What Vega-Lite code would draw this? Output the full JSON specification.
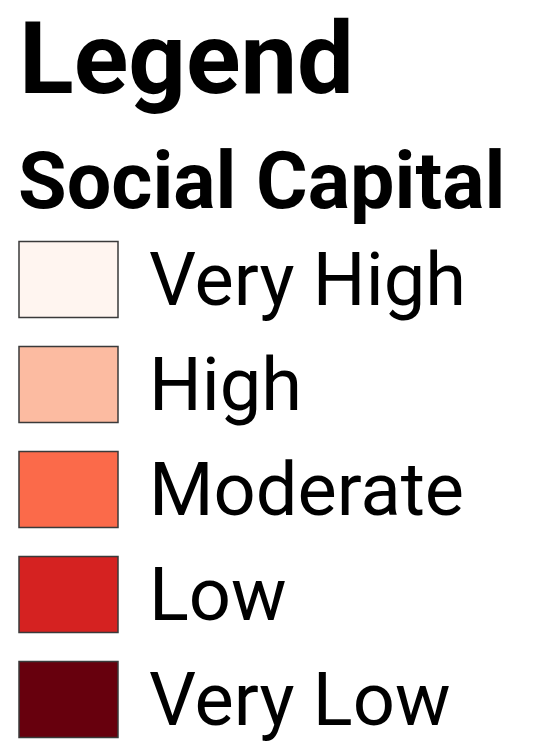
{
  "$schema": "https://vega.github.io/schema/vega-lite/v6.json",
  "width": 542,
  "height": 646,
  "autosize": "none",
  "padding": {"top": 100, "left": 0, "right": 0, "bottom": 0},
  "background": "white",
  "title": {
    "text": "Legend",
    "anchor": "start",
    "frame": "group",
    "font": "Roboto",
    "fontWeight": "bold",
    "fontSize": 101,
    "color": "black",
    "baseline": "alphabetic",
    "offset": -94,
    "dx": 19
  },
  "data": {
    "values": [
      {"capital": "Very High"},
      {"capital": "High"},
      {"capital": "Moderate"},
      {"capital": "Low"},
      {"capital": "Very Low"}
    ]
  },
  "mark": {"type": "point", "filled": true, "opacity": 0},
  "encoding": {
    "color": {
      "field": "capital",
      "type": "nominal",
      "scale": {
        "domain": ["Very High", "High", "Moderate", "Low", "Very Low"],
        "range": ["#fff5f0", "#fcbba1", "#fb6a4a", "#d52221", "#67000d"]
      },
      "legend": {
        "orient": "none",
        "legendX": 18,
        "legendY": 46,
        "title": "Social Capital",
        "titleFont": "Roboto",
        "titleFontWeight": "bold",
        "titleFontSize": 79,
        "titleColor": "black",
        "titlePadding": 4,
        "titleLimit": 600,
        "labelFont": "Roboto",
        "labelFontSize": 74,
        "labelColor": "black",
        "labelOffset": 30,
        "labelLimit": 500,
        "symbolType": "M-1,-0.768L1,-0.768L1,0.768L-1,0.768Z",
        "symbolSize": 9801,
        "symbolStrokeWidth": 1.5,
        "rowPadding": 13,
        "padding": 0,
        "encode": {
          "symbols": {
            "update": {
              "stroke": {"value": "#3a3a3a"},
              "strokeWidth": {"value": 1.5},
              "opacity": {"value": 1},
              "fillOpacity": {"value": 1}
            }
          },
          "labels": {
            "update": {
              "dy": {"value": 3}
            }
          }
        }
      }
    }
  },
  "config": {"view": {"stroke": null}}
}
